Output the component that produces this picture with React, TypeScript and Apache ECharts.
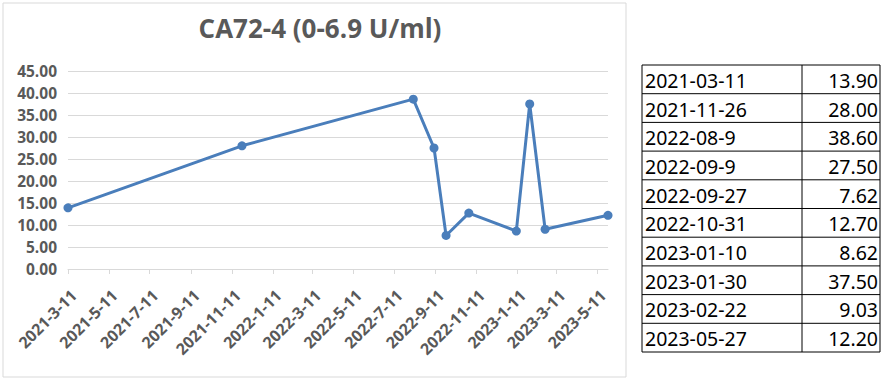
import React, { useEffect, useRef } from "react";
import * as echarts from "echarts";

const titleText = "CA72-4 (0-6.9 U/ml)";
const sampleDates = [
  "2021-03-11",
  "2021-11-26",
  "2022-08-9",
  "2022-09-9",
  "2022-09-27",
  "2022-10-31",
  "2023-01-10",
  "2023-01-30",
  "2023-02-22",
  "2023-05-27",
];
const sampleValues = [13.9, 28.0, 38.6, 27.5, 7.62, 12.7, 8.62, 37.5, 9.03, 12.2];
const xTickLabels = [
  "2021-3-11",
  "2021-5-11",
  "2021-7-11",
  "2021-9-11",
  "2021-11-11",
  "2022-1-11",
  "2022-3-11",
  "2022-5-11",
  "2022-7-11",
  "2022-9-11",
  "2022-11-11",
  "2023-1-11",
  "2023-3-11",
  "2023-5-11",
];
const xMinDate = "2021-3-11";
const xMaxDate = "2023-5-27";
const yMin = 0;
const yMax = 45;
const yStep = 5;

const toTime = (s: string) => {
  const [y, m, d] = s.split("-").map(Number);
  return Date.UTC(y, m - 1, d);
};

export default function App() {
  const ref = useRef<HTMLDivElement>(null);
  useEffect(() => {
    if (!ref.current) return;
    const chart = echarts.init(ref.current, undefined, { renderer: "svg" });
    const tickTimes = xTickLabels.map(toTime);
    const labelMap = new Map<number, string>();
    tickTimes.forEach((t, i) => labelMap.set(t, xTickLabels[i]));

    const gray = "#595959";
    const axisFont = "Open Sans";
    const tbl = { x: 642, y: 65, w: 238, rowH: 28.7, split: 802 };
    const tableFont = "19.5px 'Noto Sans', 'Open Sans', sans-serif";
    const graphics: any[] = [
      {
        type: "rect",
        shape: { x: 3, y: 3, width: 623, height: 374 },
        style: { fill: "none", stroke: "#d9d9d9", lineWidth: 1 },
        silent: true,
      },
      {
        type: "rect",
        shape: { x: tbl.x, y: tbl.y, width: tbl.w, height: tbl.rowH * sampleDates.length },
        style: { fill: "none", stroke: "#000", lineWidth: 1 },
        silent: true,
      },
      {
        type: "line",
        shape: { x1: tbl.split, y1: tbl.y, x2: tbl.split, y2: tbl.y + tbl.rowH * sampleDates.length },
        style: { stroke: "#000", lineWidth: 1 },
        silent: true,
      },
    ];
    sampleDates.forEach((d, i) => {
      const top = tbl.y + tbl.rowH * i;
      if (i > 0) {
        graphics.push({
          type: "line",
          shape: { x1: tbl.x, y1: top, x2: tbl.x + tbl.w, y2: top },
          style: { stroke: "#000", lineWidth: 1 },
          silent: true,
        });
      }
      graphics.push({
        type: "text",
        x: tbl.x + 3,
        y: top + tbl.rowH / 2 + 1,
        style: {
          text: d,
          fill: "#000",
          font: tableFont,
          verticalAlign: "middle",
          align: "left",
        },
        silent: true,
      });
      graphics.push({
        type: "text",
        x: tbl.x + tbl.w - 2,
        y: top + tbl.rowH / 2 + 1,
        style: {
          text: sampleValues[i].toFixed(2),
          fill: "#000",
          font: tableFont,
          verticalAlign: "middle",
          align: "right",
        },
        silent: true,
      });
    });

    chart.setOption({
      animation: false,
      backgroundColor: "#fff",
      title: {
        text: titleText,
        left: 315,
        top: 10,
        textAlign: "center",
        textStyle: {
          fontFamily: "Open Sans",
          fontWeight: "bold",
          fontSize: 26,
          color: gray,
        },
      },
      grid: { left: 68, right: 277, top: 71, bottom: 111, containLabel: false },
      xAxis: {
        type: "value",
        min: toTime(xMinDate),
        max: toTime(xMaxDate),
        axisLine: { show: true, lineStyle: { color: "#d9d9d9", width: 1 } },
        axisTick: {
          show: true,
          customValues: tickTimes,
          length: 5,
          lineStyle: { color: "#d9d9d9" },
        },
        axisLabel: {
          customValues: tickTimes,
          rotate: 45,
          margin: 18,
          verticalAlign: "top",
          color: gray,
          fontFamily: axisFont,
          fontWeight: "bold",
          fontSize: 16,
          formatter: (v: number) => labelMap.get(v) ?? "",
        },
        splitLine: { show: false },
      },
      yAxis: {
        type: "value",
        min: yMin,
        max: yMax,
        interval: yStep,
        axisLine: { show: false },
        axisTick: { show: false },
        axisLabel: {
          margin: 11,
          color: gray,
          fontFamily: axisFont,
          fontWeight: "bold",
          fontSize: 15.5,
          formatter: (v: number) => v.toFixed(2),
        },
        splitLine: { show: true, lineStyle: { color: "#d9d9d9", width: 1 } },
      },
      series: [
        {
          type: "line",
          data: sampleDates.map((d, i) => [toTime(d), sampleValues[i]]),
          symbol: "circle",
          symbolSize: 9,
          lineStyle: { color: "#4a7ebb", width: 3 },
          itemStyle: { color: "#4a7ebb" },
        },
      ],
      graphic: graphics,
    });
    return () => chart.dispose();
  }, []);
  return (
    <div
      ref={ref}
      style={{ position: "absolute", left: 0, top: 0, width: 885, height: 380, background: "#fff" }}
    />
  );
}
